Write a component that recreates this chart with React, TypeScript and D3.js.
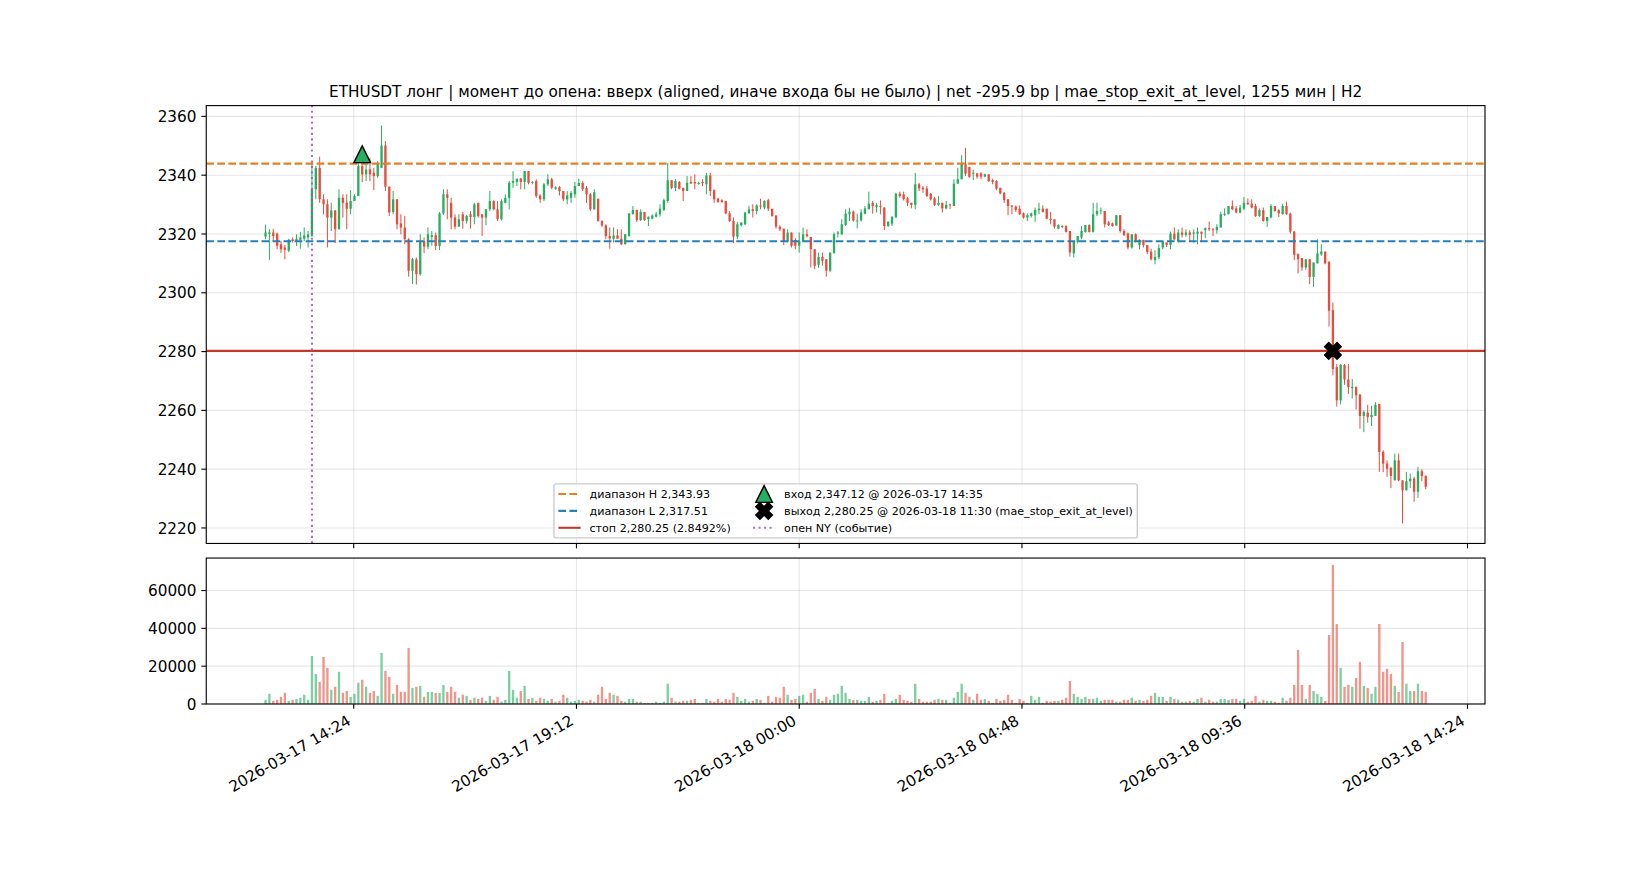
import React, { useEffect, useRef } from "react";
import * as d3 from "d3";

// ---------------- data ----------------
const SYMBOL_TITLE =
  "ETHUSDT лонг | момент до опена: вверх (aligned, иначе входа бы не было) | net -295.9 bp | mae_stop_exit_at_level, 1255 мин | H2";

const START_TIME = "2026-03-17 12:30"; // first 5-minute candle
const STEP_MIN = 5;

// [open, high, low, close]
const OHLC: [number, number, number, number][] = [
  [2319.1,2323.2,2318.2,2320.5],[2320.0,2321.6,2311.2,2320.5],[2320.5,2321.8,2317.6,2319.3],[2320.1,2320.5,2314.8,2316.0],
  [2316.5,2317.6,2313.5,2314.8],[2315.4,2316.3,2311.4,2314.6],[2314.3,2318.4,2313.8,2318.0],[2318.2,2318.8,2317.1,2317.6],
  [2317.6,2319.9,2315.9,2318.4],[2318.0,2320.7,2315.0,2318.8],[2318.4,2322.2,2317.6,2319.5],[2318.8,2321.0,2315.4,2319.9],
  [2319.4,2344.5,2319.0,2335.2],[2335.2,2343.1,2331.8,2342.5],[2342.5,2346.3,2330.6,2331.8],[2331.8,2333.5,2326.7,2330.1],
  [2330.1,2331.8,2315.4,2325.6],[2325.6,2330.6,2321.0,2328.0],[2328.0,2328.1,2316.9,2321.6],[2321.6,2335.2,2321.6,2332.3],
  [2332.3,2333.5,2325.6,2330.6],[2330.6,2333.5,2321.6,2328.6],[2328.6,2334.9,2326.7,2331.2],[2331.2,2333.5,2331.2,2332.9],
  [2332.9,2344.2,2332.9,2343.1],[2343.1,2344.2,2337.6,2340.3],[2340.3,2344.2,2338.0,2341.9],[2342.0,2345.9,2338.0,2340.3],
  [2340.8,2342.5,2334.9,2339.7],[2339.7,2344.8,2339.1,2344.2],[2342.5,2356.9,2342.5,2350.1],[2350.1,2351.6,2334.6,2336.1],
  [2336.1,2336.1,2326.1,2327.3],[2327.5,2334.6,2326.7,2331.8],[2331.8,2331.8,2321.6,2323.3],[2323.6,2326.7,2319.9,2322.2],
  [2322.2,2326.1,2316.5,2318.2],[2318.2,2318.6,2305.5,2307.5],[2307.5,2311.8,2303.0,2311.4],[2311.4,2312.0,2302.8,2306.3],
  [2306.3,2319.9,2305.8,2317.6],[2317.6,2318.8,2313.5,2315.7],[2315.7,2322.2,2314.8,2319.9],[2319.0,2321.0,2316.0,2319.6],
  [2319.6,2320.5,2314.5,2315.9],[2315.9,2327.5,2314.5,2327.0],[2327.0,2335.2,2326.5,2333.5],[2333.5,2335.2,2325.0,2332.3],
  [2330.6,2332.3,2321.6,2325.6],[2325.6,2326.7,2321.6,2322.5],[2322.5,2326.7,2322.5,2325.0],[2326.7,2327.5,2321.8,2324.4],
  [2324.4,2326.5,2323.5,2326.1],[2326.7,2327.8,2321.8,2325.8],[2325.8,2330.6,2323.3,2330.1],[2330.6,2330.6,2325.6,2326.1],
  [2326.7,2326.7,2319.3,2325.6],[2325.6,2328.4,2323.0,2328.4],[2328.4,2334.6,2327.8,2331.2],[2331.2,2331.5,2328.0,2328.4],
  [2328.4,2331.2,2324.4,2325.0],[2325.0,2331.8,2324.6,2331.2],[2330.6,2333.5,2330.4,2332.3],[2332.3,2338.0,2328.4,2337.4],
  [2337.4,2341.4,2335.7,2338.0],[2337.7,2338.8,2336.3,2338.8],[2338.8,2339.1,2335.2,2337.7],[2337.7,2341.4,2335.2,2341.4],
  [2341.4,2341.4,2336.9,2337.4],[2337.4,2338.0,2336.9,2337.7],[2338.0,2338.6,2332.3,2332.9],[2333.1,2333.5,2330.6,2331.8],
  [2331.8,2337.4,2331.2,2336.9],[2336.9,2340.3,2336.3,2338.6],[2338.6,2339.1,2335.2,2335.7],[2335.4,2336.3,2335.0,2335.9],
  [2335.9,2336.3,2333.1,2334.6],[2334.6,2334.6,2331.2,2331.8],[2331.8,2334.6,2330.1,2333.1],[2332.3,2334.6,2330.6,2334.0],
  [2333.5,2337.7,2332.3,2336.3],[2336.3,2338.8,2336.3,2337.4],[2337.4,2338.0,2334.6,2335.2],[2335.7,2336.3,2330.6,2333.5],
  [2333.5,2334.0,2327.8,2328.4],[2328.4,2335.2,2328.2,2334.2],[2332.0,2332.0,2324.2,2324.4],[2324.4,2324.7,2322.4,2322.9],
  [2322.9,2323.3,2318.2,2319.3],[2319.3,2322.2,2315.0,2318.5],[2318.4,2322.2,2317.1,2319.5],[2319.5,2321.6,2318.2,2318.4],
  [2318.4,2321.6,2316.2,2316.5],[2316.5,2319.9,2316.5,2319.9],[2319.3,2327.0,2319.1,2327.0],[2326.7,2329.5,2326.7,2328.2],
  [2328.2,2328.2,2324.1,2324.7],[2324.7,2328.4,2324.4,2327.5],[2327.5,2327.5,2324.5,2324.7],[2325.0,2325.9,2322.7,2325.9],
  [2325.2,2326.7,2325.0,2326.3],[2325.9,2327.5,2325.6,2326.7],[2326.7,2330.1,2325.9,2328.6],[2328.2,2332.0,2327.8,2331.5],
  [2331.2,2344.2,2330.6,2338.3],[2338.3,2338.3,2335.2,2335.7],[2335.7,2338.6,2334.6,2338.0],[2337.7,2338.0,2335.2,2335.4],
  [2335.7,2335.7,2331.2,2334.6],[2334.6,2339.7,2334.6,2337.4],[2337.7,2339.7,2337.0,2337.2],[2337.7,2340.3,2335.2,2337.2],
  [2337.0,2337.8,2336.8,2337.4],[2337.7,2338.6,2336.3,2337.3],[2336.9,2340.8,2333.5,2339.9],[2339.9,2340.8,2332.9,2334.6],
  [2334.9,2335.2,2330.6,2331.8],[2332.0,2332.3,2330.6,2330.9],[2331.5,2331.8,2330.6,2330.9],[2331.2,2331.2,2326.7,2327.0],
  [2327.0,2327.8,2324.1,2324.4],[2324.4,2325.6,2316.9,2319.1],[2319.1,2324.1,2318.2,2323.3],[2323.0,2323.9,2322.5,2323.9],
  [2323.3,2327.5,2323.0,2327.3],[2327.0,2329.5,2327.0,2328.4],[2328.4,2330.1,2325.6,2327.8],[2327.8,2330.1,2326.7,2329.7],
  [2329.7,2332.0,2328.4,2329.5],[2329.0,2331.5,2328.4,2331.2],[2331.5,2332.0,2327.8,2328.6],[2328.6,2328.6,2325.9,2326.1],
  [2326.3,2326.3,2321.8,2322.5],[2322.5,2322.9,2321.0,2321.6],[2321.8,2321.8,2316.2,2317.4],[2317.4,2321.6,2317.1,2320.5],
  [2320.5,2320.5,2315.4,2316.0],[2317.9,2318.6,2314.8,2316.0],[2316.0,2320.5,2313.7,2317.7],[2317.4,2322.2,2317.4,2319.9],
  [2319.9,2321.6,2318.8,2319.3],[2319.0,2319.0,2308.6,2314.8],[2314.8,2314.8,2308.0,2309.2],[2309.5,2313.7,2308.5,2312.2],
  [2312.2,2313.7,2309.2,2310.9],[2311.4,2311.4,2305.5,2307.5],[2307.5,2313.7,2307.0,2313.7],[2313.5,2320.5,2313.3,2319.9],
  [2320.1,2321.0,2318.8,2320.5],[2319.9,2325.0,2319.7,2323.3],[2323.1,2328.4,2322.7,2326.9],[2326.7,2328.9,2324.4,2327.6],
  [2327.6,2328.0,2324.2,2324.6],[2324.4,2326.9,2321.9,2324.6],[2324.6,2328.4,2324.2,2327.3],[2326.9,2329.5,2326.7,2328.7],
  [2328.4,2334.4,2328.4,2330.3],[2330.6,2331.2,2326.9,2329.5],[2329.2,2330.6,2327.3,2329.8],[2329.5,2331.4,2326.7,2329.2],
  [2329.0,2329.0,2321.3,2322.7],[2322.7,2324.2,2322.4,2324.2],[2323.5,2326.1,2322.7,2325.8],[2325.6,2334.0,2325.6,2333.7],
  [2333.7,2334.4,2332.3,2332.9],[2333.5,2334.4,2331.4,2331.8],[2332.1,2332.6,2329.5,2330.6],[2330.6,2330.6,2328.7,2329.9],
  [2329.9,2340.8,2328.4,2336.9],[2336.9,2337.4,2334.6,2335.5],[2335.7,2336.3,2334.0,2335.2],[2335.5,2336.3,2332.6,2332.9],
  [2333.7,2334.0,2331.4,2331.8],[2332.1,2332.6,2329.5,2329.9],[2329.9,2332.9,2329.5,2330.6],[2330.6,2330.6,2327.3,2328.7],
  [2328.7,2331.2,2328.4,2329.9],[2330.1,2330.3,2328.4,2329.9],[2329.5,2338.6,2329.5,2337.1],[2337.1,2342.5,2337.1,2338.6],
  [2338.6,2346.8,2338.6,2343.9],[2343.7,2349.3,2339.7,2340.5],[2342.8,2342.8,2339.1,2339.4],[2340.5,2341.9,2338.3,2340.8],
  [2340.6,2340.8,2338.8,2339.5],[2340.6,2341.0,2338.6,2339.5],[2339.5,2340.5,2339.3,2340.3],[2340.3,2340.3,2337.7,2338.0],
  [2338.3,2338.8,2336.9,2337.7],[2338.0,2338.3,2334.9,2335.4],[2335.7,2335.7,2333.5,2333.8],[2334.0,2334.3,2330.6,2331.5],
  [2331.8,2331.8,2326.4,2329.5],[2329.7,2329.7,2326.7,2329.3],[2329.3,2329.7,2327.5,2328.2],[2328.6,2329.7,2326.4,2326.7],
  [2327.0,2327.3,2325.2,2325.6],[2325.6,2327.0,2324.4,2326.4],[2326.1,2327.3,2325.6,2327.0],[2326.4,2329.0,2324.1,2328.2],
  [2328.1,2330.6,2326.7,2328.6],[2328.6,2329.7,2327.3,2327.5],[2328.6,2328.6,2325.0,2325.2],[2325.2,2327.5,2323.3,2324.8],
  [2325.0,2325.0,2321.8,2322.5],[2321.8,2323.3,2321.6,2323.0],[2322.7,2323.0,2322.0,2322.5],[2322.7,2323.0,2320.5,2320.7],
  [2321.0,2321.0,2312.3,2313.7],[2313.4,2317.3,2312.0,2317.3],[2317.3,2319.3,2316.8,2319.3],[2318.8,2322.7,2318.2,2321.0],
  [2320.7,2323.0,2320.5,2323.0],[2323.0,2323.3,2320.5,2320.7],[2320.7,2330.6,2320.5,2326.7],[2326.7,2330.6,2326.1,2327.8],
  [2327.8,2329.0,2326.7,2328.0],[2327.8,2327.8,2322.2,2323.3],[2323.9,2324.4,2322.7,2323.0],[2323.6,2323.9,2322.5,2322.7],
  [2322.9,2326.4,2322.7,2326.4],[2326.4,2326.4,2320.5,2321.0],[2321.0,2321.6,2319.3,2319.6],[2320.2,2320.5,2314.8,2315.4],
  [2315.4,2319.9,2315.0,2319.9],[2319.9,2320.2,2317.1,2317.3],[2316.2,2318.2,2314.8,2318.0],[2318.0,2318.0,2315.4,2316.2],
  [2316.2,2316.2,2313.1,2313.9],[2314.0,2315.0,2311.0,2311.4],[2311.1,2314.5,2309.7,2312.2],[2312.0,2316.5,2311.5,2315.2],
  [2315.4,2317.6,2314.8,2317.4],[2317.1,2317.1,2315.6,2316.3],[2316.3,2320.8,2314.8,2320.1],[2320.1,2322.2,2317.9,2318.2],
  [2317.4,2321.6,2317.1,2320.5],[2320.5,2322.2,2318.8,2319.7],[2319.7,2321.6,2319.0,2320.5],[2320.5,2321.3,2317.6,2319.7],
  [2320.1,2321.6,2317.1,2320.5],[2320.1,2322.2,2316.5,2320.8],[2320.8,2320.8,2317.6,2320.1],[2321.3,2322.2,2318.6,2322.0],
  [2322.0,2324.2,2321.0,2321.6],[2321.6,2322.0,2319.3,2321.3],[2321.3,2323.3,2320.1,2322.4],[2322.2,2327.6,2322.2,2326.7],
  [2326.5,2328.7,2326.1,2326.9],[2326.7,2329.5,2326.7,2329.5],[2329.5,2331.4,2328.1,2328.4],[2328.7,2329.5,2327.0,2327.3],
  [2327.3,2329.9,2327.0,2329.0],[2328.6,2332.6,2328.1,2330.6],[2330.6,2332.1,2329.9,2330.1],[2330.3,2331.8,2328.7,2329.0],
  [2329.5,2330.3,2325.8,2326.1],[2326.1,2328.7,2325.8,2328.1],[2328.1,2329.0,2324.2,2324.4],[2324.4,2325.8,2322.4,2325.8],
  [2325.6,2330.1,2325.3,2329.5],[2329.5,2329.5,2327.6,2327.8],[2328.1,2328.4,2325.8,2327.0],[2326.7,2330.3,2326.7,2329.5],
  [2329.5,2331.0,2326.5,2326.7],[2326.9,2327.3,2320.1,2320.8],[2320.8,2321.0,2311.1,2312.9],[2313.1,2313.4,2306.6,2311.4],
  [2311.8,2311.8,2307.5,2308.6],[2308.6,2311.4,2307.7,2311.4],[2311.4,2311.4,2302.9,2305.4],[2305.4,2310.3,2302.0,2310.3],
  [2310.0,2318.2,2310.0,2313.4],[2313.1,2316.5,2312.6,2314.0],[2314.0,2314.0,2309.7,2310.0],[2310.6,2310.6,2288.5,2293.9],
  [2294.1,2296.7,2271.9,2274.1],[2274.7,2275.8,2261.3,2263.4],[2263.4,2275.8,2262.0,2275.5],[2275.5,2275.8,2268.7,2270.5],
  [2270.5,2275.8,2265.6,2267.9],[2267.5,2270.7,2264.0,2268.0],[2267.9,2268.2,2260.3,2265.1],[2265.3,2265.6,2253.8,2258.1],
  [2258.1,2260.0,2252.6,2259.4],[2259.2,2261.9,2255.8,2257.7],[2257.7,2261.5,2254.7,2258.5],[2258.1,2262.8,2258.1,2261.9],
  [2262.2,2262.2,2239.1,2245.9],[2245.9,2246.4,2239.0,2241.9],[2241.9,2243.0,2237.4,2240.2],[2240.4,2240.8,2233.6,2237.7],
  [2236.2,2245.3,2236.2,2243.0],[2243.0,2245.3,2235.9,2236.2],[2236.2,2236.2,2221.5,2232.8],[2232.8,2239.1,2232.8,2235.9],
  [2235.9,2238.5,2233.6,2236.8],[2236.8,2237.4,2228.9,2232.3],[2232.3,2240.8,2230.2,2239.3],[2239.3,2240.0,2235.9,2237.7],
  [2237.7,2237.9,2233.2,2234.0],
];

const VOLUME: number[] = [
  2200,5400,1700,2200,3800,5900,1700,2200,2700,3300,4900,2200,25400,15900,11700,24900,19100,7500,9100,17000,
  5900,6900,3800,5400,11200,12800,9100,5900,6900,4300,27000,17500,14300,5400,10100,6400,6400,29600,8500,9100,
  9600,3800,6400,6400,5900,5900,10100,6400,9100,6400,3300,4900,4300,2200,3300,2700,3300,1700,4300,2200,
  3800,1200,2200,17500,7500,3300,6900,9600,2700,3300,1700,3300,2700,1700,2700,1200,1700,4900,3300,1200,
  1700,2200,1700,1200,2200,1200,4900,9100,2700,5900,4900,4300,1700,1200,2700,2700,1200,1200,600,600,
  600,1200,600,1200,10700,3300,1200,1200,1700,1700,2200,2700,600,600,2700,1700,1200,2700,1200,2700,
  2200,5900,3800,1700,2700,1200,1700,2700,2200,600,4300,1200,3800,3300,9100,4900,2200,2700,4300,4900,
  1200,5900,8000,2700,1700,3800,2200,4900,5400,9600,5900,2700,2200,2200,1700,1700,3800,1200,1700,2200,
  5400,600,1700,2700,4900,2200,1700,1200,10700,2700,1200,1200,1200,2200,2700,2200,2200,600,3300,6400,
  10700,5900,3800,2200,5400,2200,2700,1700,600,2700,1700,2200,4900,2200,600,2700,1700,600,4300,2200,
  3800,600,1700,1200,1700,1700,2200,3300,12200,5400,3800,2700,3800,2700,2700,3300,1700,2200,2200,2200,
  1200,1200,2200,2200,3300,1700,2200,1700,2200,4300,5900,3800,3800,1700,3800,2700,2200,1200,1200,1700,
  1200,2700,3300,1200,2200,1200,1200,2700,2700,2200,2700,2700,1700,2700,1200,1700,4300,1200,2200,1700,
  1700,1200,600,3300,1700,3300,10100,28600,10100,2700,10100,6900,5400,3800,1700,36500,73500,42300,19100,9100,
  10100,9100,13800,22300,9600,8500,5400,9100,42300,17000,18600,15900,9600,6400,32800,10700,6900,6900,10700,6900,
  6400,
];

const PRICE_TICKS = [2220, 2240, 2260, 2280, 2300, 2320, 2340, 2360];
const VOLUME_TICKS = [0, 20000, 40000, 60000];
const TIME_TICKS = [
  "2026-03-17 14:24", "2026-03-17 19:12", "2026-03-18 00:00",
  "2026-03-18 04:48", "2026-03-18 09:36", "2026-03-18 14:24",
];

const RANGE_HIGH = 2343.93;
const RANGE_LOW = 2317.51;
const STOP_LEVEL = 2280.25;
const NY_OPEN_TIME = "2026-03-17 13:30";
const ENTRY_TIME = "2026-03-17 14:35";
const ENTRY_PRICE = 2347.12;
const EXIT_TIME = "2026-03-18 11:30";
const EXIT_PRICE = 2280.25;

const LEGEND_COL1 = ["диапазон H 2,343.93", "диапазон L 2,317.51", "стоп 2,280.25 (2.8492%)"];
const LEGEND_COL2 = [
  "вход 2,347.12 @ 2026-03-17 14:35",
  "выход 2,280.25 @ 2026-03-18 11:30 (mae_stop_exit_at_level)",
  "опен NY (событие)",
];

// ---------------- style ----------------
const GREEN = "#27ae60";
const RED = "#e74c3c";
const C_HIGH = "#e67e22";
const C_LOW = "#2980b9";
const C_STOP = "#c0392b";
const C_NY = "#9b59b6";
const FONT = "'DejaVu Sans', 'Liberation Sans', sans-serif";
const PT = 100 / 72;

const parseT = d3.utcParse("%Y-%m-%d %H:%M");
const fmtT = d3.utcFormat("%Y-%m-%d %H:%M");

function draw(svgEl: SVGSVGElement) {
  const svg = d3.select(svgEl);
  svg.selectAll("*").remove();

  const W = 1650, H = 880;
  const L = 0.125 * W, R = 0.9 * W;
  const top = (1 - 0.88) * H, bottom = (1 - 0.2) * H;
  const unit = (bottom - top) / 4.1;
  const pTop = top, pBot = top + 3 * unit;
  const vTop = pBot + 0.1 * unit, vBot = bottom;

  svg.append("rect").attr("width", W).attr("height", H).attr("fill", "white");

  const step = STEP_MIN * 60000;
  const t0 = parseT(START_TIME)!.getTime();
  const times = OHLC.map((_, i) => t0 + i * step);
  const barW = 0.6 * step;
  const lo = times[0] - barW / 2, hi = times[times.length - 1] + barW / 2;
  const padX = (hi - lo) * 0.05;
  const x = d3.scaleUtc().domain([new Date(lo - padX), new Date(hi + padX)]).range([L, R]);

  const pMin = d3.min(OHLC, (d) => d[2])!;
  const pMax = d3.max(OHLC, (d) => d[1])!;
  const padY = (pMax - pMin) * 0.05;
  const y = d3.scaleLinear().domain([pMin - padY, pMax + padY]).range([pBot, pTop]);
  const yv = d3.scaleLinear().domain([0, d3.max(VOLUME)! * 1.05]).range([vBot, vTop]);

  const defs = svg.append("defs");
  defs.append("clipPath").attr("id", "clipP").append("rect")
    .attr("x", L).attr("y", pTop).attr("width", R - L).attr("height", pBot - pTop);
  defs.append("clipPath").attr("id", "clipV").append("rect")
    .attr("x", L).attr("y", vTop).attr("width", R - L).attr("height", vBot - vTop);

  const tickDates = TIME_TICKS.map((s) => parseT(s)!);
  const gridW = 0.8 * PT;

  // ---- grids ----
  const gridP = svg.append("g").attr("clip-path", "url(#clipP)");
  gridP.selectAll("line.h").data(PRICE_TICKS).join("line")
    .attr("x1", L).attr("x2", R).attr("y1", (d) => y(d)).attr("y2", (d) => y(d))
    .attr("stroke", "#b0b0b0").attr("stroke-opacity", 0.3).attr("stroke-width", gridW);
  gridP.selectAll("line.v").data(tickDates).join("line")
    .attr("x1", (d) => x(d)).attr("x2", (d) => x(d)).attr("y1", pTop).attr("y2", pBot)
    .attr("stroke", "#b0b0b0").attr("stroke-opacity", 0.3).attr("stroke-width", gridW);

  const gridV = svg.append("g").attr("clip-path", "url(#clipV)");
  gridV.selectAll("line.h").data(VOLUME_TICKS).join("line")
    .attr("x1", L).attr("x2", R).attr("y1", (d) => yv(d)).attr("y2", (d) => yv(d))
    .attr("stroke", "#b0b0b0").attr("stroke-opacity", 0.3).attr("stroke-width", gridW);
  gridV.selectAll("line.v").data(tickDates).join("line")
    .attr("x1", (d) => x(d)).attr("x2", (d) => x(d)).attr("y1", vTop).attr("y2", vBot)
    .attr("stroke", "#b0b0b0").attr("stroke-opacity", 0.3).attr("stroke-width", gridW);

  // ---- candles ----
  const bw = x(new Date(t0 + barW / 2)) - x(new Date(t0 - barW / 2));
  const cg = svg.append("g").attr("clip-path", "url(#clipP)");
  const data = OHLC.map((d, i) => ({ o: d[0], h: d[1], l: d[2], c: d[3], t: times[i], v: VOLUME[i] }));
  cg.selectAll("line.wick").data(data).join("line")
    .attr("x1", (d) => x(new Date(d.t))).attr("x2", (d) => x(new Date(d.t)))
    .attr("y1", (d) => y(d.h)).attr("y2", (d) => y(d.l))
    .attr("stroke", (d) => (d.c >= d.o ? GREEN : RED)).attr("stroke-width", 1);
  cg.selectAll("rect.body").data(data).join("rect")
    .attr("x", (d) => x(new Date(d.t)) - bw / 2)
    .attr("y", (d) => y(Math.max(d.o, d.c)))
    .attr("width", bw)
    .attr("height", (d) => Math.max(Math.abs(y(d.o) - y(d.c)), 0.9))
    .attr("fill", (d) => (d.c >= d.o ? GREEN : RED));

  // ---- volume bars ----
  const vg = svg.append("g").attr("clip-path", "url(#clipV)");
  vg.selectAll("rect").data(data).join("rect")
    .attr("x", (d) => x(new Date(d.t)) - bw / 2)
    .attr("y", (d) => yv(d.v))
    .attr("width", bw)
    .attr("height", (d) => yv(0) - yv(d.v))
    .attr("fill", (d) => (d.c >= d.o ? GREEN : RED))
    .attr("fill-opacity", 0.6);

  // ---- level lines ----
  const lw = 1.5 * PT;
  const dash = `${3.7 * lw} ${1.6 * lw}`;
  const dot = `${1 * lw} ${1.65 * lw}`;
  const lg = svg.append("g").attr("clip-path", "url(#clipP)");
  lg.append("line").attr("x1", L).attr("x2", R).attr("y1", y(RANGE_HIGH)).attr("y2", y(RANGE_HIGH))
    .attr("stroke", C_HIGH).attr("stroke-width", lw).attr("stroke-dasharray", dash);
  lg.append("line").attr("x1", L).attr("x2", R).attr("y1", y(RANGE_LOW)).attr("y2", y(RANGE_LOW))
    .attr("stroke", C_LOW).attr("stroke-width", lw).attr("stroke-dasharray", dash);
  lg.append("line").attr("x1", L).attr("x2", R).attr("y1", y(STOP_LEVEL)).attr("y2", y(STOP_LEVEL))
    .attr("stroke", C_STOP).attr("stroke-width", lw);
  const nyX = x(parseT(NY_OPEN_TIME)!);
  lg.append("line").attr("x1", nyX).attr("x2", nyX).attr("y1", pBot).attr("y2", pTop)
    .attr("stroke", C_NY).attr("stroke-width", lw).attr("stroke-dasharray", dot).attr("stroke-opacity", 0.85);

  // ---- markers ----
  const ms = 12 * PT;
  const triPath = (cx: number, cy: number) =>
    `M${cx},${cy - ms / 2}L${cx - ms / 2},${cy + ms / 2}L${cx + ms / 2},${cy + ms / 2}Z`;
  const xPts = [[-0.25, -0.5], [0, -0.25], [0.25, -0.5], [0.5, -0.25], [0.25, 0], [0.5, 0.25],
    [0.25, 0.5], [0, 0.25], [-0.25, 0.5], [-0.5, 0.25], [-0.25, 0], [-0.5, -0.25]];
  const xPath = (cx: number, cy: number) =>
    "M" + xPts.map((p) => `${cx + p[0] * ms},${cy + p[1] * ms}`).join("L") + "Z";

  svg.append("path").attr("d", triPath(x(parseT(ENTRY_TIME)!), y(ENTRY_PRICE)))
    .attr("fill", GREEN).attr("stroke", "black").attr("stroke-width", PT).attr("stroke-linejoin", "miter");
  svg.append("path").attr("d", xPath(x(parseT(EXIT_TIME)!), y(EXIT_PRICE)))
    .attr("fill", "black").attr("stroke", "black").attr("stroke-width", PT);

  // ---- spines ----
  const spineW = 0.8 * PT;
  svg.append("rect").attr("x", L).attr("y", pTop).attr("width", R - L).attr("height", pBot - pTop)
    .attr("fill", "none").attr("stroke", "black").attr("stroke-width", spineW);
  svg.append("rect").attr("x", L).attr("y", vTop).attr("width", R - L).attr("height", vBot - vTop)
    .attr("fill", "none").attr("stroke", "black").attr("stroke-width", spineW);

  // ---- ticks ----
  const tl = 3.5 * PT, tp = 3.5 * PT;
  const fsT = 11 * PT;
  const tg = svg.append("g").attr("font-family", FONT).attr("font-size", fsT).attr("fill", "black");
  PRICE_TICKS.forEach((v) => {
    tg.append("line").attr("x1", L - tl).attr("x2", L).attr("y1", y(v)).attr("y2", y(v))
      .attr("stroke", "black").attr("stroke-width", spineW);
    tg.append("text").attr("x", L - tl - tp).attr("y", y(v) + 0.365 * fsT)
      .attr("text-anchor", "end").text(String(v));
  });
  VOLUME_TICKS.forEach((v) => {
    tg.append("line").attr("x1", L - tl).attr("x2", L).attr("y1", yv(v)).attr("y2", yv(v))
      .attr("stroke", "black").attr("stroke-width", spineW);
    tg.append("text").attr("x", L - tl - tp).attr("y", yv(v) + 0.365 * fsT)
      .attr("text-anchor", "end").text(String(v));
  });
  tickDates.forEach((d) => {
    const xt = x(d);
    tg.append("line").attr("x1", xt).attr("x2", xt).attr("y1", pBot).attr("y2", pBot + tl)
      .attr("stroke", "black").attr("stroke-width", spineW);
    tg.append("line").attr("x1", xt).attr("x2", xt).attr("y1", vBot).attr("y2", vBot + tl)
      .attr("stroke", "black").attr("stroke-width", spineW);
    const hBox = 0.98 * fsT, desc = 0.22 * fsT;
    const yTop = vBot + tl + tp;
    const cs = Math.cos(Math.PI / 6), sn = Math.sin(Math.PI / 6);
    const bx = xt - desc * sn, by = yTop + hBox * cs - desc * cs;
    tg.append("text").attr("x", bx).attr("y", by).attr("text-anchor", "end")
      .attr("transform", `rotate(-30 ${bx} ${by})`).text(fmtT(d));
  });

  // ---- title ----
  svg.append("text").attr("x", (L + R) / 2).attr("y", pTop - 6 * PT)
    .attr("text-anchor", "middle").attr("font-family", FONT).attr("font-size", 11 * PT)
    .attr("fill", "black").text(SYMBOL_TITLE);

  // ---- legend ----
  const fsL = 8 * PT;
  const ctx = document.createElement("canvas").getContext("2d")!;
  ctx.font = `${fsL}px 'DejaVu Sans'`;
  const tw = (s: string) => ctx.measureText(s).width;
  const bp = 0.4 * fsL, ls = 0.5 * fsL, hl = 2 * fsL, hp = 0.8 * fsL, cspace = 2 * fsL;
  const rowH = 1.02 * fsL;
  const c1w = hl + hp + d3.max(LEGEND_COL1, tw)!;
  const c2w = hl + hp + d3.max(LEGEND_COL2, tw)!;
  const boxW = 2 * bp + c1w + cspace + c2w;
  const boxH = 2 * bp + 3 * rowH + 2 * ls;
  const boxX = (L + R) / 2 - boxW / 2;
  const boxY = pBot - 0.5 * fsL - boxH;
  const leg = svg.append("g").attr("font-family", FONT).attr("font-size", fsL);
  leg.append("rect").attr("x", boxX).attr("y", boxY).attr("width", boxW).attr("height", boxH)
    .attr("rx", 0.2 * fsL).attr("ry", 0.2 * fsL)
    .attr("fill", "white").attr("fill-opacity", 0.8).attr("stroke", "#cccccc").attr("stroke-width", PT);
  const rowY = (k: number) => boxY + bp + rowH / 2 + k * (rowH + ls);
  const col1X = boxX + bp;
  const col2X = col1X + c1w + cspace;
  const lineStyles = [
    { c: C_HIGH, dash },
    { c: C_LOW, dash },
    { c: C_STOP, dash: null as string | null },
  ];
  LEGEND_COL1.forEach((s, k) => {
    const cy = rowY(k);
    const ln = leg.append("line").attr("x1", col1X).attr("x2", col1X + hl).attr("y1", cy).attr("y2", cy)
      .attr("stroke", lineStyles[k].c).attr("stroke-width", lw);
    if (lineStyles[k].dash) ln.attr("stroke-dasharray", lineStyles[k].dash!);
    leg.append("text").attr("x", col1X + hl + hp).attr("y", cy + 0.36 * fsL).text(s);
  });
  LEGEND_COL2.forEach((s, k) => {
    const cy = rowY(k);
    const hx = col2X + hl / 2;
    if (k === 0) {
      leg.append("path").attr("d", triPath(hx, cy)).attr("fill", GREEN)
        .attr("stroke", "black").attr("stroke-width", PT);
    } else if (k === 1) {
      leg.append("path").attr("d", xPath(hx, cy)).attr("fill", "black")
        .attr("stroke", "black").attr("stroke-width", PT);
    } else {
      leg.append("line").attr("x1", col2X).attr("x2", col2X + hl).attr("y1", cy).attr("y2", cy)
        .attr("stroke", C_NY).attr("stroke-width", lw).attr("stroke-dasharray", dot).attr("stroke-opacity", 0.85);
    }
    leg.append("text").attr("x", col2X + hl + hp).attr("y", cy + 0.36 * fsL).text(s);
  });
}

export default function App() {
  const ref = useRef<SVGSVGElement>(null);
  useEffect(() => {
    document.body.style.margin = "0";
    if (ref.current) draw(ref.current);
  }, []);
  return <svg ref={ref} width={1650} height={880} style={{ display: "block" }} />;
}
